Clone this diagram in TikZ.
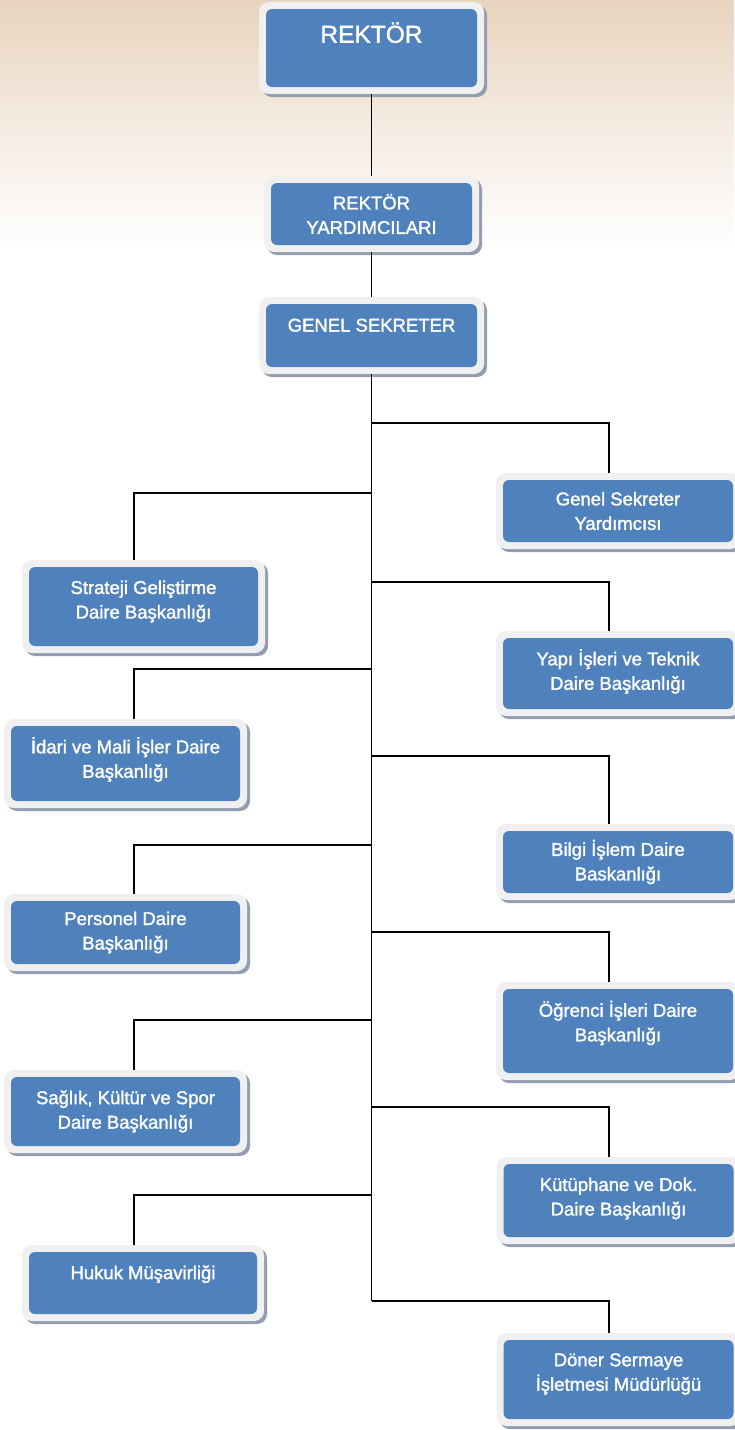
\documentclass[tikz,border=0pt]{standalone}
\usepackage{fontspec}
\setmainfont{Liberation Sans}
\newfontfamily\yazi{Liberation Sans}[FakeBold=1.6]
\usetikzlibrary{shadows}

\definecolor{mavi}{HTML}{4F81BD}
\definecolor{kenar}{HTML}{F0F0F0}
\definecolor{golge}{HTML}{929DB0}
\definecolor{arka}{HTML}{E8D3BD}

\begin{document}
\begin{tikzpicture}[x=1pt, y=-1pt,
    birim/.style={rectangle, rounded corners=10pt, fill=kenar, text=white,
        align=center, inner sep=0pt,
        font=\yazi\fontsize{18.5}{24.5}\selectfont,
        drop shadow={shadow xshift=3pt, shadow yshift=-3pt, fill=golge, opacity=1},
        path picture={\fill[mavi, rounded corners=6pt]
            ([shift={(7pt,7pt)}]path picture bounding box.south west) rectangle
            ([shift={(-7pt,-7pt)}]path picture bounding box.north east);}},
    sag/.style={birim, minimum width=244pt},
    sol/.style={birim, minimum width=243pt},
    hat/.style={line width=1.8pt}]
    \useasboundingbox (0,0) rectangle (734,1430);
    \shade[top color=arka, bottom color=white, middle color=arka!45] (0,0) rectangle (734,250);

    % ust kisim
    \node[birim, minimum width=225pt, minimum height=92pt, text height=12pt, text depth=22.4pt] (rektor) at (371.5,48) {\fontsize{24.5}{28}\selectfont REKTÖR};
    \node[birim, minimum width=215pt, minimum height=76pt] (ryard) at (371.5,214) {REKTÖR\\YARDIMCILARI};
    \node[birim, minimum width=225pt, minimum height=77pt, text height=8pt, text depth=15.8pt] (gsek) at (371.5,335.5) {GENEL SEKRETER};

    % sag taraf
    \node[sag, minimum height=76pt] (gsy) at (618,511) {Genel Sekreter\\Yardımcısı};
    \node[sag, minimum height=85pt, text depth=8pt] (yapi) at (618,673.5) {Yapı İşleri ve Teknik\\Daire Başkanlığı};
    \node[sag, minimum height=76pt] (bilgi) at (618,862) {Bilgi İşlem Daire\\Baskanlığı};
    \node[sag, minimum height=98pt, text depth=20pt] (ogrenci) at (618,1031) {Öğrenci İşleri Daire\\Başkanlığı};
    \node[sag, minimum height=87pt, text depth=8pt] (kutuphane) at (618.5,1200.5) {Kütüphane ve Dok.\\Daire Başkanlığı};
    \node[sag, minimum height=93pt, text depth=15pt] (doner) at (618.5,1379.5) {Döner Sermaye\\İşletmesi Müdürlüğü};

    % sol taraf
    \node[sol, minimum height=93pt, text depth=14pt] (strateji) at (143.5,606.5) {Strateji Geliştirme\\Daire Başkanlığı};
    \node[sol, minimum height=89pt, text depth=12pt] (idari) at (125.5,763.5) {İdari ve Mali İşler Daire\\Başkanlığı};
    \node[sol, minimum height=77pt] (personel) at (125.5,932.5) {Personel Daire\\Başkanlığı};
    \node[sol, minimum height=83pt] (saglik) at (125.5,1111.5) {Sağlık, Kültür ve Spor\\Daire Başkanlığı};
    \node[sol, minimum width=242pt, minimum height=76pt, text height=8pt, text depth=15.8pt] (hukuk) at (143,1283) {Hukuk Müşavirliği};

    % baglantilar
    \coordinate (solx) at (134,0);
    \coordinate (sagx) at (609,0);
    \coordinate (son) at (gsek.south |- 0,1301);
    \draw[hat] (rektor.south) -- (ryard.north);
    \draw[hat] (ryard.south) -- (gsek.north);
    \draw[hat] (gsek.south) -- (son);
    \foreach \ad/\y in {gsy/423, yapi/582, bilgi/756, ogrenci/932, kutuphane/1107, doner/1301} {
        \coordinate (k\ad) at (gsek.south |- 0,\y);
        \draw[hat] (k\ad) -| (\ad.north -| sagx);
    }
    \foreach \ad/\y in {strateji/493, idari/669, personel/845, saglik/1020, hukuk/1195} {
        \coordinate (k\ad) at (gsek.south |- 0,\y);
        \draw[hat] (k\ad) -| (\ad.north -| solx);
    }
\end{tikzpicture}
\end{document}
